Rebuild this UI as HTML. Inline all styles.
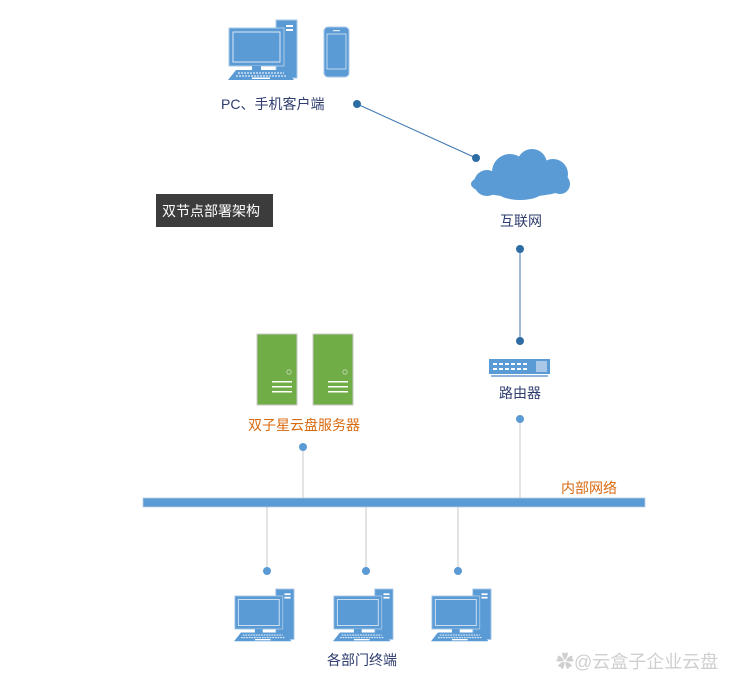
<!DOCTYPE html>
<html><head><meta charset="utf-8"><style>
body{margin:0;background:#fff;}
svg text{font-family:"Liberation Sans","Noto Sans CJK SC",sans-serif;}
</style></head><body>
<svg width="743" height="690" viewBox="0 0 743 690" xmlns="http://www.w3.org/2000/svg">
<defs>
<g id="pc">
  <rect x="48" y="0" width="21" height="58" fill="#5b9bd5" stroke="#a9c8e8" stroke-width="1"/>
  <rect x="58" y="5" width="7" height="2" fill="#fff"/>
  <rect x="58" y="9" width="7" height="2" fill="#fff"/>
  <rect x="1" y="8" width="55" height="38" fill="#5b9bd5" stroke="#a9c8e8" stroke-width="1"/>
  <rect x="5" y="12" width="47" height="30" fill="#5b9bd5" stroke="#dbe8f6" stroke-width="1"/>
  <rect x="24" y="46" width="9" height="4" fill="#5b9bd5"/>
  <polygon points="0,60 8,50 58,50 66,60" fill="#5b9bd5"/>
  <line x1="10" y1="53" x2="56" y2="53" stroke="#fff" stroke-width="1" stroke-dasharray="2,1"/>
  <line x1="8" y1="56" x2="58" y2="56" stroke="#fff" stroke-width="1" stroke-dasharray="2,1"/>
  <rect x="24" y="57.5" width="18" height="1.5" fill="#fff"/>
</g>
<g id="srv">
  <rect x="0" y="0" width="40" height="71" fill="#70ad47" stroke="#c9c9c9" stroke-width="1"/>
  <circle cx="32" cy="38" r="2.2" fill="none" stroke="#c9d9bf" stroke-width="0.8"/>
  <rect x="15" y="47" width="20" height="1.5" fill="#fff"/>
  <rect x="15" y="52" width="20" height="1.5" fill="#fff"/>
  <rect x="15" y="57" width="20" height="1.5" fill="#fff"/>
</g>
</defs>

<use href="#pc" x="228" y="20"/>
<rect x="324" y="27" width="25" height="50" rx="4" fill="#5b9bd5" stroke="#a9c8e8"/>
<rect x="327" y="34" width="19" height="35" fill="#5b9bd5" stroke="#dbe8f6" stroke-width="0.8"/>
<rect x="333" y="30" width="7" height="1.2" fill="#dbe8f6"/>
<text x="221" y="109" font-size="14" fill="#2e3c6e">PC、手机客户端</text>

<line x1="357" y1="104" x2="476" y2="158" stroke="#3a75b0" stroke-width="1"/>
<circle cx="357" cy="104" r="4" fill="#2e6da4"/>
<circle cx="476" cy="158" r="4" fill="#2e6da4"/>

<g fill="#5b9bd5">
  <ellipse cx="520" cy="184" rx="49" ry="13"/>
  <circle cx="487" cy="183" r="13"/>
  <circle cx="510" cy="172" r="18"/>
  <circle cx="532" cy="164" r="15"/>
  <circle cx="553" cy="174" r="15"/>
  <circle cx="560" cy="184" r="10"/>
  <ellipse cx="520" cy="190" rx="24" ry="10"/>
</g>
<text x="500" y="226" font-size="14" fill="#2e3c6e">互联网</text>

<line x1="520" y1="249" x2="520" y2="341" stroke="#7da3c9" stroke-width="1.5"/>
<circle cx="520" cy="249" r="4" fill="#2e6da4"/>
<circle cx="520" cy="341" r="4" fill="#2e6da4"/>

<rect x="489" y="359" width="61" height="15" fill="#5b9bd5"/>
<line x1="493" y1="364" x2="527" y2="364" stroke="#fff" stroke-width="2" stroke-dasharray="4,2"/>
<line x1="493" y1="369" x2="527" y2="369" stroke="#fff" stroke-width="2" stroke-dasharray="4,2"/>
<rect x="536" y="361" width="11" height="11" fill="#a9c8e8"/>
<rect x="491" y="375" width="57" height="2" fill="#8fb5dc"/>
<text x="499" y="398" font-size="14" fill="#2e3c6e">路由器</text>
<line x1="520" y1="419" x2="520" y2="498" stroke="#c8c8c8" stroke-width="1"/>
<circle cx="520" cy="419" r="4" fill="#5b9bd5"/>

<rect x="156" y="194" width="117" height="33" fill="#3c3c3c"/>
<text x="162" y="216" font-size="14" fill="#fff">双节点部署架构</text>

<use href="#srv" x="257" y="334"/>
<use href="#srv" x="313" y="334"/>
<text x="248" y="430" font-size="14" fill="#d86a10">双子星云盘服务器</text>
<line x1="303" y1="447" x2="303" y2="498" stroke="#c8c8c8" stroke-width="1"/>
<circle cx="303" cy="447" r="4" fill="#5b9bd5"/>

<rect x="143" y="498" width="502" height="9" fill="#5b9bd5" stroke="#b9cde3" stroke-width="0.8"/>
<text x="561" y="493" font-size="14" fill="#d86a10">内部网络</text>

<line x1="267" y1="507" x2="267" y2="571" stroke="#c8c8c8"/>
<line x1="366" y1="507" x2="366" y2="571" stroke="#c8c8c8"/>
<line x1="458" y1="507" x2="458" y2="571" stroke="#c8c8c8"/>
<circle cx="267" cy="571" r="4" fill="#5b9bd5"/>
<circle cx="366" cy="571" r="4" fill="#5b9bd5"/>
<circle cx="458" cy="571" r="4" fill="#5b9bd5"/>

<g transform="translate(234,589) scale(0.87)"><use href="#pc"/></g>
<g transform="translate(333,589) scale(0.87)"><use href="#pc"/></g>
<g transform="translate(431,589) scale(0.87)"><use href="#pc"/></g>
<text x="327" y="665" font-size="14" fill="#2e3c6e">各部门终端</text>

<text x="556" y="668" font-size="18" fill="#cfcfcf">✿@云盒子企业云盘</text>
</svg>
</body></html>
